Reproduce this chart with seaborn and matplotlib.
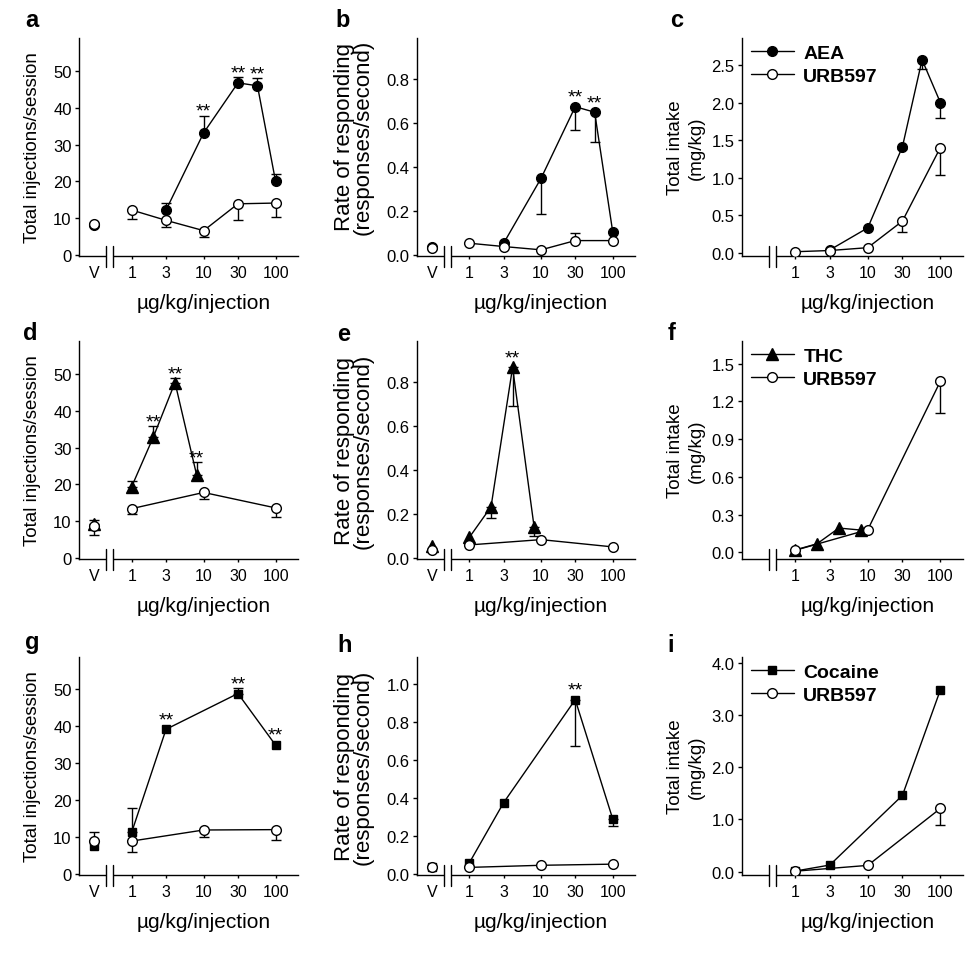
import numpy as np
import pandas as pd
import matplotlib
matplotlib.use("Agg")
import matplotlib.pyplot as plt
import matplotlib.transforms as mtransforms
from matplotlib.ticker import FormatStrFormatter, NullLocator
import seaborn as sns

# ---- values ----
# doses in ug/kg/injection; errors are signed (+ bar drawn up, - bar drawn down)
aea_dose = [3, 10, 30, 56, 100]
thc_dose = [1, 2, 4, 8]
coc_dose = [1, 3, 30, 100]
urb_dose_aea = [1, 3, 10, 30, 100]
urb_dose = [1, 10, 100]

# row 1: AEA vs URB597
aea_inj = [12.2, 33.2, 46.8, 46.0, 20.0]
aea_inj_err = [2.0, 4.7, 1.6, 2.1, 2.0]
urb_inj_a = [12.2, 9.4, 6.6, 13.9, 14.1]
urb_inj_a_err = [-2.4, -1.9, -1.8, -4.4, -3.7]
aea_rate = [0.053, 0.348, 0.673, 0.648, 0.106]
aea_rate_err = [0, -0.162, -0.105, -0.136, 0]
urb_rate_b = [0.053, 0.038, 0.023, 0.065, 0.065]
urb_rate_b_err = [0, 0, 0, 0.033, 0]
aea_intake = [0.036, 0.33, 1.41, 2.57, 2.0]
aea_intake_err = [0, 0, -0.03, -0.12, -0.2]
urb_intake_c = [0.012, 0.028, 0.066, 0.42, 1.40]
urb_intake_c_err = [0, 0, 0, -0.14, -0.36]

# row 2: THC vs URB597
thc_inj = [19.4, 32.9, 47.7, 22.5]
thc_inj_err = [1.4, 3.0, 1.1, 3.6]
urb_inj_d = [13.4, 17.8, 13.6]
urb_inj_d_err = [-1.5, -1.7, -2.5]
thc_rate = [0.094, 0.232, 0.865, 0.14]
thc_rate_err = [0, -0.053, -0.177, -0.041]
urb_rate_e = [0.059, 0.083, 0.05]
urb_rate_e_err = [0, 0, 0]
thc_intake = [0.019, 0.068, 0.193, 0.177]
thc_intake_err = [0, 0, 0, 0]
urb_intake_f = [0.016, 0.18, 1.36]
urb_intake_f_err = [0, 0, -0.25]

# row 3: cocaine vs URB597
coc_inj = [11.3, 39.2, 48.9, 34.9]
coc_inj_err = [6.5, 0, 1.4, 0]
urb_inj_g = [8.9, 11.9, 12.0]
urb_inj_g_err = [-3.1, -1.9, -2.9]
coc_rate = [0.06, 0.375, 0.916, 0.29]
coc_rate_err = [0, 0, -0.244, -0.036]
urb_rate_h = [0.035, 0.046, 0.052]
urb_rate_h_err = [0, 0, 0]
coc_intake = [0.011, 0.127, 1.46, 3.48]
coc_intake_err = [0, 0, 0, 0]
urb_intake_i = [0.009, 0.12, 1.21]
urb_intake_i_err = [0, 0, -0.31]

# vehicle values: [drug, URB597] and their signed errors
veh_a = [8.2, 8.4]
veh_a_err = [0, -0.6]
veh_b = [0.035, 0.033]
veh_b_err = [0, 0]
veh_d = [9.3, 8.8]
veh_d_err = [1.0, -2.7]
veh_e = [0.053, 0.035]
veh_e_err = [0, 0]
veh_g = [7.5, 8.9]
veh_g_err = [0, 2.4]
veh_h = [0.037, 0.037]
veh_h_err = [0, 0]

# doses marked ** (drug series)
stars_a = [10, 30, 56]
stars_b = [30, 56]
stars_d = [2, 4, 8]
stars_e = [4]
stars_g = [3, 30, 100]
stars_h = [30]

# ---- layout / style ----
V = 0.3
XLIM = (0.185, 205)
BREAK = (0.44, 0.545)
col_left = [79, 417, 742]
col_width = [219, 218, 221]
row_top = [39, 342, 658]
row_height = 218
FW, FH = 979, 954

sns.set_style("ticks")
plt.rcParams["font.family"] = ["Liberation Sans", "DejaVu Sans"]
plt.rcParams.update({"axes.linewidth": 1.0, "text.color": "black",
                     "axes.labelcolor": "black", "axes.edgecolor": "black",
                     "xtick.color": "black", "ytick.color": "black"})

fig = plt.figure(figsize=(FW / 100, FH / 100), dpi=100)

drug_style = {"AEA": ("o", 7), "THC": ("^", 8), "Cocaine": ("s", 6.3)}


def draw_series(ax, dose, vals, errs, marker, ms, face, label=None, veh=None, veh_err=0):
    xs, ys, es = list(dose), list(vals), list(errs)
    if veh is not None:
        xs, ys, es = xs + [V], ys + [veh], es + [veh_err]
    keep = [i for i, e in enumerate(es) if e != 0]
    if keep:
        lo = [max(-es[i], 0) for i in keep]
        hi = [max(es[i], 0) for i in keep]
        ax.errorbar([xs[i] for i in keep], [ys[i] for i in keep], yerr=[lo, hi],
                    fmt="none", ecolor="black", elinewidth=1, capsize=3.5,
                    capthick=1, zorder=2)
    style = dict(color="black", marker=marker, markersize=ms, markerfacecolor=face,
                 markeredgecolor="black", markeredgewidth=1, linewidth=1,
                 errorbar=None, legend=False, zorder=3)
    sns.lineplot(x=list(dose), y=list(vals), ax=ax, label=label, **style)
    if veh is not None:
        sns.lineplot(x=[V], y=[veh], ax=ax, **style)


def add_break(ax):
    tr = mtransforms.blended_transform_factory(ax.transData, ax.transAxes)
    ax.plot(BREAK, [0, 0], transform=tr, color="white", lw=3, clip_on=False,
            zorder=5, solid_capstyle="butt")
    for xb in BREAK:
        ax.plot([xb, xb], [-0.05, 0.045], transform=tr, color="black", lw=1,
                clip_on=False, zorder=6)


panels = [
    ("a", 0, 0, "AEA", (aea_dose, aea_inj, aea_inj_err), (urb_dose_aea, urb_inj_a, urb_inj_a_err),
     (veh_a, veh_a_err), stars_a, (-0.3, 59), np.arange(0, 51, 10), "%d"),
    ("b", 0, 1, "AEA", (aea_dose, aea_rate, aea_rate_err), (urb_dose_aea, urb_rate_b, urb_rate_b_err),
     (veh_b, veh_b_err), stars_b, (-0.005, 0.985), np.arange(0, 0.81, 0.2), "%.1f"),
    ("c", 0, 2, "AEA", (aea_dose, aea_intake, aea_intake_err), (urb_dose_aea, urb_intake_c, urb_intake_c_err),
     None, [], (-0.045, 2.86), np.arange(0, 2.51, 0.5), "%.1f"),
    ("d", 1, 0, "THC", (thc_dose, thc_inj, thc_inj_err), (urb_dose, urb_inj_d, urb_inj_d_err),
     (veh_d, veh_d_err), stars_d, (-0.3, 59), np.arange(0, 51, 10), "%d"),
    ("e", 1, 1, "THC", (thc_dose, thc_rate, thc_rate_err), (urb_dose, urb_rate_e, urb_rate_e_err),
     (veh_e, veh_e_err), stars_e, (-0.005, 0.985), np.arange(0, 0.81, 0.2), "%.1f"),
    ("f", 1, 2, "THC", (thc_dose, thc_intake, thc_intake_err), (urb_dose, urb_intake_f, urb_intake_f_err),
     None, [], (-0.053, 1.68), np.arange(0, 1.51, 0.3), "%.1f"),
    ("g", 2, 0, "Cocaine", (coc_dose, coc_inj, coc_inj_err), (urb_dose, urb_inj_g, urb_inj_g_err),
     (veh_g, veh_g_err), stars_g, (-0.3, 58.8), np.arange(0, 51, 10), "%d"),
    ("h", 2, 1, "Cocaine", (coc_dose, coc_rate, coc_rate_err), (urb_dose, urb_rate_h, urb_rate_h_err),
     (veh_h, veh_h_err), stars_h, (-0.005, 1.14), np.arange(0, 1.01, 0.2), "%.1f"),
    ("i", 2, 2, "Cocaine", (coc_dose, coc_intake, coc_intake_err), (urb_dose, urb_intake_i, urb_intake_i_err),
     None, [], (-0.064, 4.11), np.arange(0, 4.01, 1.0), "%.1f"),
]

ylabels = ["Total injections/session", "Rate of responding\n(responses/second)",
           "Total intake\n(mg/kg)"]
ylab_x = [-0.174, -0.20, -0.167]
ylab_size = [13.5, 16, 13.5]
ylab_ls = [1.2, 0.85, 1.3]
letter_pos = {"a": (25, 27), "b": (335, 27), "c": (670, 27),
              "d": (23, 340), "e": (337, 341), "f": (668, 340),
              "g": (25, 649), "h": (337, 652), "i": (667, 652)}

for letter, r, c, drug, dser, user, veh, stars, ylim, yticks, yfmt in panels:
    ax = fig.add_axes([col_left[c] / FW, 1 - (row_top[r] + row_height) / FH,
                       col_width[c] / FW, row_height / FH])
    ax.set_xscale("log")
    marker, ms = drug_style[drug]
    vd, vu = (veh[0][0], veh[0][1]) if veh else (None, None)
    ed, eu = (veh[1][0], veh[1][1]) if veh else (0, 0)
    draw_series(ax, *dser, marker, ms, "black", label=drug, veh=vd, veh_err=ed)
    draw_series(ax, *user, "o", 7, "white", label="URB597", veh=vu, veh_err=eu)

    # significance stars
    for d in stars:
        i = dser[0].index(d)
        v, e = dser[1][i], dser[2][i]
        top = v + max(e, 0)
        ax.annotate("**", (d, top), xytext=(0, 3 if e > 0 else 7),
                    textcoords="offset points", ha="center", va="center", fontsize=14)

    ax.set_xlim(XLIM)
    ax.set_ylim(ylim)
    xt = [1, 3, 10, 30, 100]
    xl = ["1", "3", "10", "30", "100"]
    if veh:
        ax.set_xticks([V] + xt, ["V"] + xl)
        ax.xaxis.get_major_ticks()[0].tick1line.set_visible(False)
    else:
        ax.set_xticks(xt, xl)
    ax.xaxis.set_minor_locator(NullLocator())
    ax.set_yticks(yticks)
    ax.yaxis.set_major_formatter(FormatStrFormatter(yfmt))
    ax.tick_params(axis="x", length=2, width=1, pad=4.5, labelsize=11.5)
    ax.tick_params(axis="y", length=3, width=1, pad=2.3, labelsize=12)
    sns.despine(ax=ax)
    add_break(ax)

    # x label centered over the dose range
    lx = (np.log10(10) - np.log10(XLIM[0])) / (np.log10(XLIM[1]) - np.log10(XLIM[0]))
    ax.set_xlabel("µg/kg/injection", fontsize=15)
    ax.xaxis.set_label_coords(lx, -0.17)
    ax.set_ylabel(ylabels[c], fontsize=ylab_size[c], linespacing=ylab_ls[c])
    ax.yaxis.set_label_coords(ylab_x[c], 0.55 if letter == "b" else 0.5)

    if c == 2:
        ax.legend(loc="upper left", bbox_to_anchor=(0.04, 0.97), frameon=False,
                  prop={"weight": "bold", "size": 14}, handlelength=2.2,
                  handletextpad=0.5, labelspacing=0.25, borderaxespad=0, borderpad=0)

    lxp, lyp = letter_pos[letter]
    fig.text(lxp / FW, 1 - lyp / FH, letter, fontsize=17, fontweight="bold",
             ha="left", va="baseline")

fig.savefig("out.png", dpi=100)
